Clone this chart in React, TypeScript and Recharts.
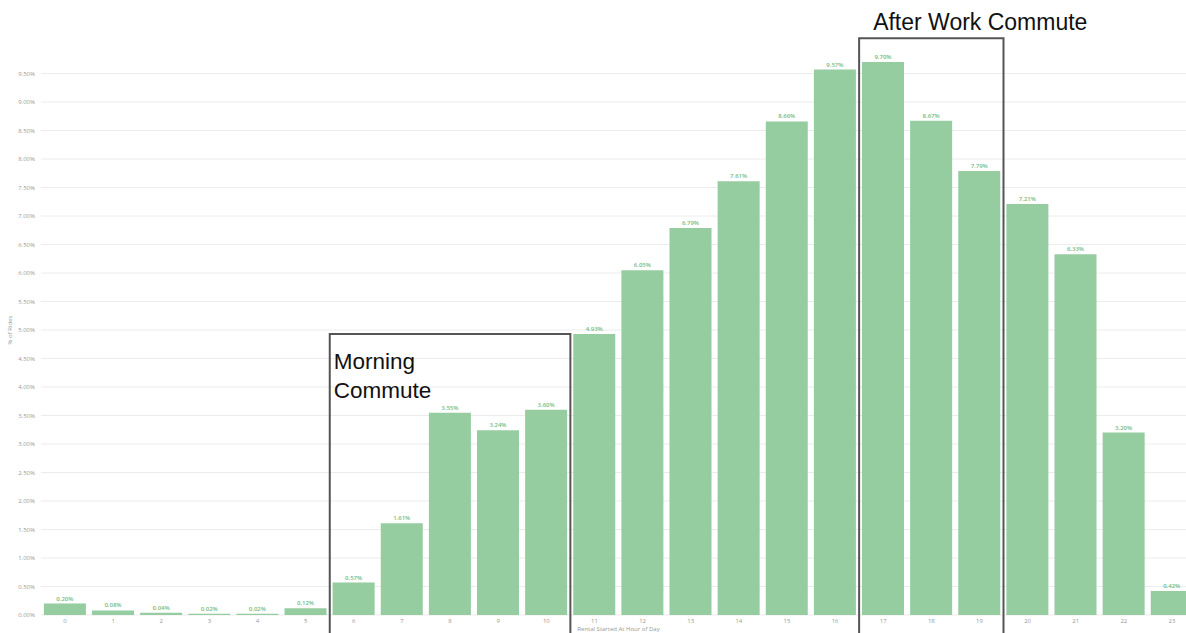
import { Bar, BarChart, CartesianGrid, LabelList, ReferenceArea, XAxis, YAxis, Label } from "recharts"

const hours = [
  "0", "1", "2", "3", "4", "5", "6", "7", "8", "9", "10", "11",
  "12", "13", "14", "15", "16", "17", "18", "19", "20", "21", "22", "23",
]

const ridesPct = [
  0.2, 0.08, 0.04, 0.02, 0.02, 0.12, 0.57, 1.61, 3.55, 3.24, 3.6, 4.93,
  6.05, 6.79, 7.61, 8.66, 9.57, 9.7, 8.67, 7.79, 7.21, 6.33, 3.2, 0.42,
]

const yTicks = [0, 0.5, 1, 1.5, 2, 2.5, 3, 3.5, 4, 4.5, 5, 5.5, 6, 6.5, 7, 7.5, 8, 8.5, 9, 9.5]

// annotation boxes (hour range + top edge in % units)
const morningHours = ["6", "10"]
const morningTop = 4.93
const eveningHours = ["17", "19"]
const eveningTop = 10.12
const boxBottom = -1

const data = hours.map((h, i) => ({ hour: h, pct: ridesPct[i] }))

const pctFmt = (v: number) => `${Number(v).toFixed(2)}%`

function MorningLabel(props: any) {
  const { x, y } = props.viewBox
  return (
    <text x={x + 4} y={y + 35} fontFamily="Liberation Sans, Arial, sans-serif" fontSize={22.5} fill="#111">
      <tspan x={x + 4}>Morning</tspan>
      <tspan x={x + 4} dy={29}>Commute</tspan>
    </text>
  )
}

function EveningLabel(props: any) {
  const { x, y } = props.viewBox
  return (
    <text x={x + 14} y={y - 8} fontFamily="Liberation Sans, Arial, sans-serif" fontSize={23} fill="#111">
      After Work Commute
    </text>
  )
}

export default function App() {
  return (
    <div style={{ position: "fixed", left: 0, top: 0, width: 1186, height: 633, overflow: "hidden", background: "#fff" }}>
      <BarChart
        width={1210}
        height={645}
        data={data}
        margin={{ top: 45, right: 14, bottom: 5, left: 0 }}
        barCategoryGap="6%"
        style={{ fontFamily: "'Open Sans', sans-serif" }}
      >
        <CartesianGrid vertical={false} stroke="#ececec" horizontalValues={yTicks} />
        <XAxis
          dataKey="hour"
          height={25}
          tickLine={false}
          axisLine={false}
          tickSize={2}
          tickMargin={2}
          interval={0}
          tick={{ fontSize: 6, fill: "#999" }}
        >
          <Label value="Rental Started At Hour of Day" position="insideBottom" offset={9} fontSize={6} fill="#999" />
        </XAxis>
        <YAxis
          width={41}
          domain={[0, 10]}
          ticks={yTicks}
          tickFormatter={pctFmt}
          tickLine={false}
          axisLine={false}
          tickSize={4}
          tickMargin={2}
          tick={{ fontSize: 6, fill: "#999" }}
        >
          <Label value="% of Rides" angle={-90} position="insideLeft" offset={10} fontSize={6} fill="#999" style={{ textAnchor: "middle" }} />
        </YAxis>
        <Bar dataKey="pct" fill="#95cca0" isAnimationActive={false}>
          <LabelList dataKey="pct" position="top" offset={3} formatter={(v: any) => pctFmt(v)} fontSize={6} fill="#72bb82" fontWeight={600} />
        </Bar>
        <ReferenceArea
          x1={morningHours[0]}
          x2={morningHours[1]}
          y1={boxBottom}
          y2={morningTop}
          ifOverflow="visible"
          fill="none"
          stroke="#555"
          strokeWidth={2}
          label={<MorningLabel />}
        />
        <ReferenceArea
          x1={eveningHours[0]}
          x2={eveningHours[1]}
          y1={boxBottom}
          y2={eveningTop}
          ifOverflow="visible"
          fill="none"
          stroke="#555"
          strokeWidth={2}
          label={<EveningLabel />}
        />
      </BarChart>
    </div>
  )
}
